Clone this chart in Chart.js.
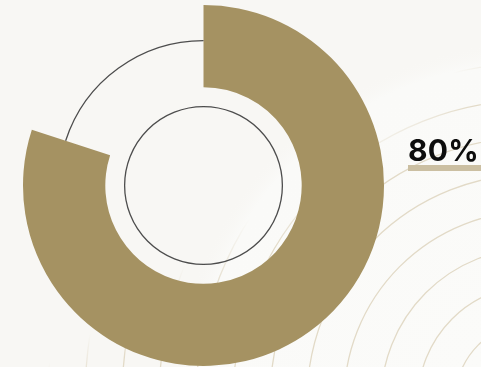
<!DOCTYPE html>
<html>
<head>
<meta charset="utf-8">
<script src="https://cdn.jsdelivr.net/npm/chart.js@4.4.1/dist/chart.umd.min.js"></script>
<style>
  html, body { margin: 0; padding: 0; background: #f8f7f4; }
  #wrap { position: relative; width: 481px; height: 367px; overflow: hidden; }
  #chart { position: absolute; left: 0; top: 0; }
  #pct {
    position: absolute; left: 408px; top: 130px;
    font-family: Inter, "Noto Sans", sans-serif; font-weight: 700; font-size: 30px;
    color: #0d0d0d; line-height: 40px; letter-spacing: 0.2px;
  }
  #bar { position: absolute; left: 408px; top: 165px; width: 73px; height: 6px; background: #cbbfa2; }
</style>
</head>
<body>
<div id="wrap">
  <canvas id="chart" width="481" height="367"></canvas>
  <div id="pct"></div>
  <div id="bar"></div>
</div>
<script>
var labels = ["Concluído", "Restante"];
var values = [80, 20];
var colors = ["#a59262", "rgba(0,0,0,0)"];

document.getElementById("pct").textContent = values[0] + "%";

// fundo com arcos concêntricos
var fundo = {
    id: 'fundo',
    beforeDraw: function (chart) {
        var c = chart.ctx;
        c.save();
        c.fillStyle = '#f8f7f4';
        c.fillRect(0, 0, chart.width, chart.height);
        var g = c.createRadialGradient(534, 401, 60, 534, 401, 360);
        g.addColorStop(0, '#fbfbf9');
        g.addColorStop(0.93, '#fafaf8');
        g.addColorStop(1, 'rgba(248,247,244,0)');
        c.fillStyle = g;
        c.fillRect(0, 0, chart.width, chart.height);
        var lg = c.createLinearGradient(245, 222, 268, 254);
        lg.addColorStop(0, 'rgba(226,218,199,0)');
        lg.addColorStop(1, 'rgba(226,218,199,1)');
        c.strokeStyle = lg;
        c.lineWidth = 1.3;
        for (var r = 79; r < 500; r += 37) {
            c.beginPath();
            c.arc(534, 401, r, Math.PI, 2 * Math.PI);
            c.stroke();
        }
        c.restore();
    },
    afterDatasetsDraw: function (chart) {
        var c = chart.ctx;
        var arcs = chart.getDatasetMeta(0).data;
        var a = arcs[0];
        var resto = arcs[1];
        c.save();
        c.strokeStyle = '#4d4d4d';
        c.lineWidth = 1.3;
        // circulo interno
        c.beginPath();
        c.arc(a.x, a.y, a.outerRadius * 0.437, 0, 2 * Math.PI);
        c.stroke();
        // arco da parte restante
        c.beginPath();
        c.arc(a.x, a.y, a.outerRadius * 0.803, resto.startAngle, resto.endAngle);
        c.stroke();
        c.restore();
    }
};

var ctx = document.getElementById("chart");
var grafico = new Chart(ctx, {
    type: 'doughnut',
    data: {
        labels: labels,
        datasets: [{
            data: values,
            backgroundColor: colors,
            borderWidth: 0,
            hoverOffset: 0
        }]
    },
    options: {
        responsive: false,
        animation: false,
        cutout: '54.4%',
        layout: { padding: { left: 23, top: 5, right: 97, bottom: 1 } },
        plugins: {
            legend: { display: false },
            tooltip: { enabled: false }
        }
    },
    plugins: [fundo]
});
</script>
</body>
</html>
